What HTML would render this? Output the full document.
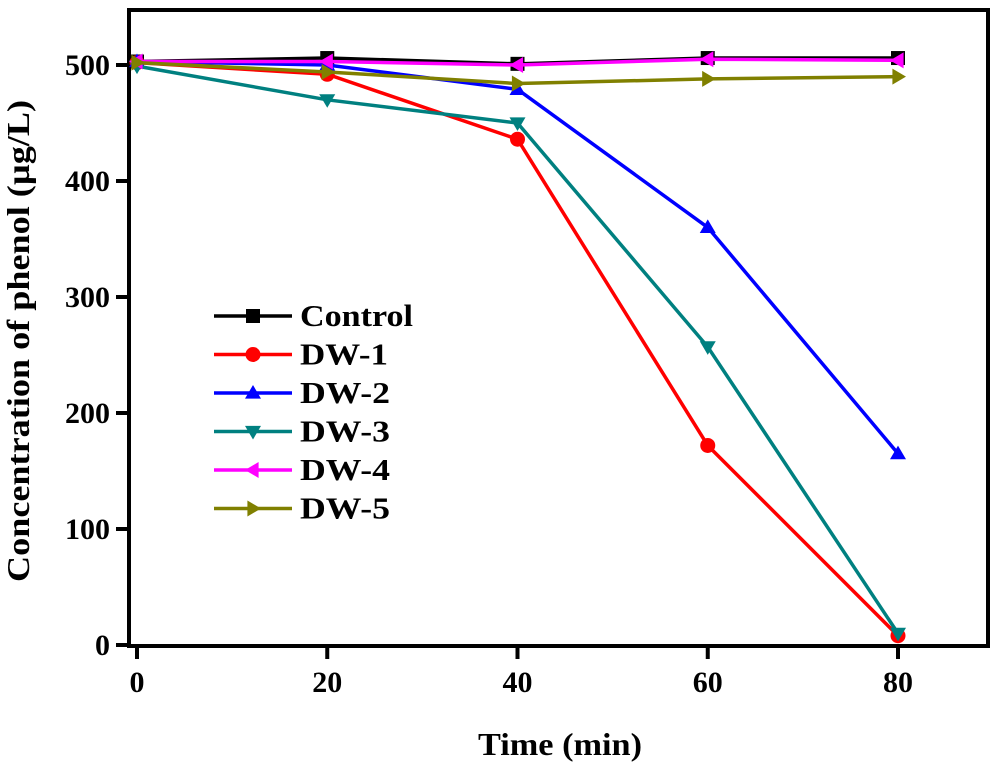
<!DOCTYPE html>
<html><head><meta charset="utf-8"><style>body{margin:0;background:#fff}svg{display:block}text{font-family:"Liberation Serif",serif;font-weight:bold}</style></head>
<body>
<svg id="c" width="1000" height="766"></svg>
<script>
const times=[0,20,40,60,80];
const control=[503,506,501,506,506];
const dw1=[502,492,436,172,8];
const dw2=[503,500,479,360,165];
const dw3=[499,470,450,257,10];
const dw4=[503,503,500,505,504];
const dw5=[502,494,484,488,490];
const xTicks=[0,20,40,60,80];
const yTicks=[0,100,200,300,400,500];
const names=["Control","DW-1","DW-2","DW-3","DW-4","DW-5"];
const legendLens=[113,88,90,90,90,90];
const series=[control,dw1,dw2,dw3,dw4,dw5];
const colors=["#000000","#ff0000","#0000ff","#008080","#ff00ff","#808000"];
const markers=["sq","ci","up","dn","lt","rt"];
const X=v=>137+v*(898-137)/80;
const Y=v=>645-v*(645-65)/500;
const s=document.getElementById('c');const NS="http://www.w3.org/2000/svg";
function mk(t,a,p){const e=document.createElementNS(NS,t);for(const k in a)e.setAttribute(k,a[k]);(p||s).appendChild(e);return e;}
const frame=mk('rect',{x:129,y:10,width:859,height:636,fill:'none',stroke:'#000','stroke-width':4});


xTicks.forEach(v=>{const l=mk('line',{x1:X(v),x2:X(v),y1:646,y2:659,stroke:'#000','stroke-width':4});


const t=mk('text',{x:X(v),y:692,'text-anchor':'middle','font-size':30});t.textContent=v;

});
yTicks.forEach(v=>{const l=mk('line',{x1:116,x2:129,y1:Y(v),y2:Y(v),stroke:'#000','stroke-width':4});


const t=mk('text',{x:110,y:Y(v)+10,'text-anchor':'end','font-size':30});t.textContent=v;

});
const xt=mk('text',{x:478,y:755,'font-size':32,textLength:164,lengthAdjust:'spacingAndGlyphs'});xt.textContent="Time (min)";


const yt=mk('text',{x:0,y:0,'font-size':32,textLength:482,lengthAdjust:'spacingAndGlyphs',transform:'translate(29,582) rotate(-90)'});yt.textContent="Concentration of phenol (µg/L)";


function marker(type,x,y,c,g){const r=8;let e;
if(type=='sq')e=mk('rect',{x:x-7,y:y-7,width:14,height:14,fill:c},g);
else if(type=='ci')e=mk('circle',{cx:x,cy:y,r:7.5,fill:c},g);
else{let p;if(type=='up')p=[[x,y-r],[x+r,y+r*0.7],[x-r,y+r*0.7]];
else if(type=='dn')p=[[x,y+r],[x+r,y-r*0.7],[x-r,y-r*0.7]];
else if(type=='lt')p=[[x-r,y],[x+r*0.7,y-r],[x+r*0.7,y+r]];
else p=[[x+r,y],[x-r*0.7,y-r],[x-r*0.7,y+r]];
e=mk('polygon',{points:p.map(q=>q.join(',')).join(' '),fill:c},g);}

}
series.forEach((d,i)=>{const g=mk('g',{});


mk('polyline',{points:d.map((v,j)=>X(times[j])+','+Y(v)).join(' '),fill:'none',stroke:colors[i],'stroke-width':3.5},g);
d.forEach((v,j)=>marker(markers[i],X(times[j]),Y(v),colors[i],g));
const ly=316+i*38.5;const lg=mk('g',{});


mk('line',{x1:214,x2:292,y1:ly,y2:ly,stroke:colors[i],'stroke-width':3.5},lg);
marker(markers[i],253,ly,colors[i],lg);
const t=mk('text',{x:300,y:ly+10,'font-size':31,textLength:legendLens[i],lengthAdjust:'spacingAndGlyphs'},lg);t.textContent=names[i];});
</script>
</body></html>
